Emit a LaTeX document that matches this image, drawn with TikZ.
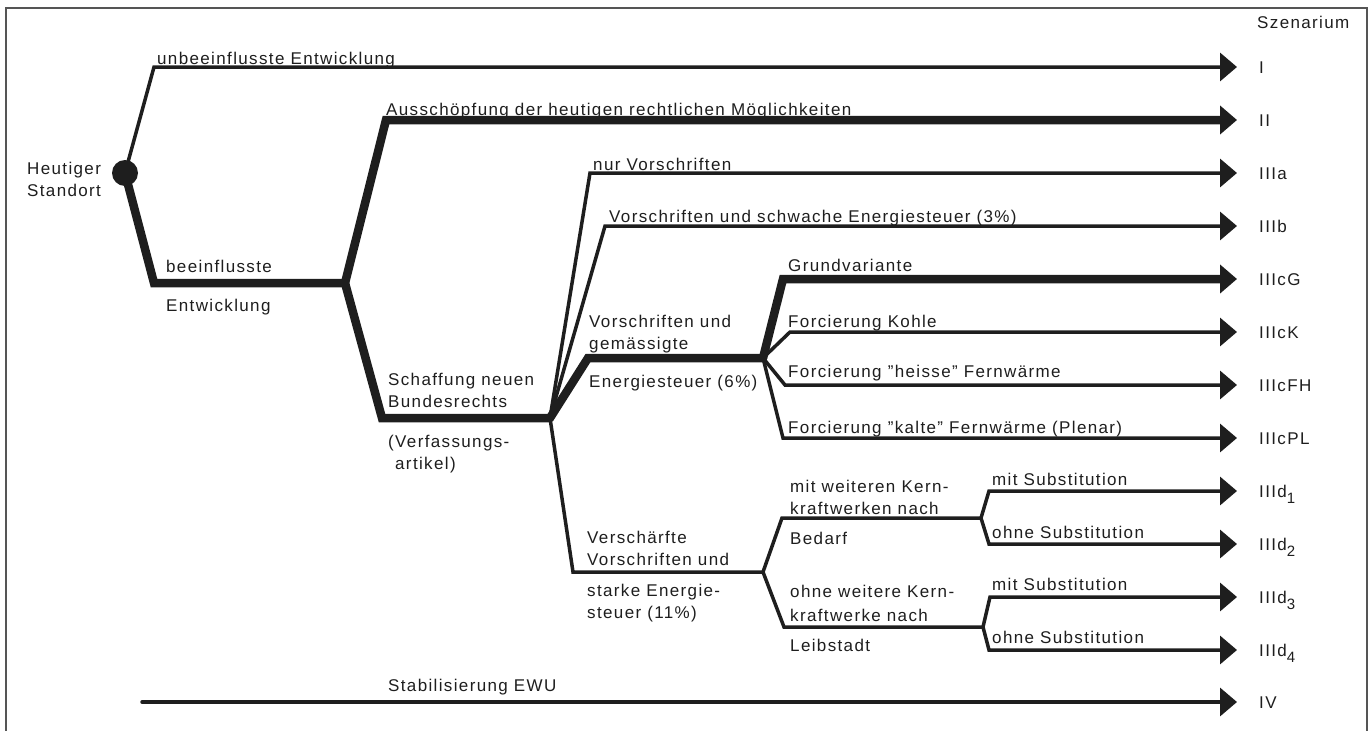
\documentclass[tikz,border=0pt]{standalone}
\usepackage{fontspec}
\setmainfont[LetterSpace=8]{Liberation Sans}
\usetikzlibrary{arrows.meta}
\definecolor{ink}{HTML}{1E1E1E}
\definecolor{framec}{HTML}{555555}
\newcommand{\lfont}{\fontsize{17}{20}\selectfont}
\newcommand{\sub}[1]{\raisebox{-6pt}{\fontsize{15}{15}\selectfont #1}}
\tikzset{
  ln/.style={draw=ink, line cap=round, line join=miter},
  thinln/.style={ln, line width=3.5pt},
  thickln/.style={ln, line width=8.5pt},
  arr/.style={-{Triangle[length=17pt,width=28pt]}},
  lbl/.style={anchor=base west, inner sep=0pt, text=ink, font=\lfont},
}
\begin{document}
\begin{tikzpicture}[x=1pt,y=-1pt]
\useasboundingbox (0,0) rectangle (1371,731);
\begin{scope}
  \clip (0,0) rectangle (1371,731);
  \draw[framec, line width=1.5pt] (6,8) rectangle (1367,760);
\end{scope}

% coordinates
\node[circle, fill=ink, minimum size=26pt, inner sep=0pt] (root) at (125,173) {};
\coordinate (cI) at (154,67);   \coordinate (tI) at (1237,67);
\coordinate (cB) at (154,283);  \coordinate (jB) at (345,283);
\coordinate (cII) at (386,120); \coordinate (tII) at (1237,120);
\coordinate (cS) at (382,418);  \coordinate (jS) at (550,418);
\coordinate (cIIIa) at (590,173); \coordinate (tIIIa) at (1237,173);
\coordinate (cIIIb) at (605,226); \coordinate (tIIIb) at (1237,226);
\coordinate (cC) at (588,358);  \coordinate (jC) at (763,358);
\coordinate (cG) at (783,279);  \coordinate (tG) at (1237,279);
\coordinate (cK) at (790,332);  \coordinate (tK) at (1237,332);
\coordinate (cFH) at (785,385); \coordinate (tFH) at (1237,385);
\coordinate (cPL) at (783,438); \coordinate (tPL) at (1237,438);
\coordinate (cD) at (573,572);  \coordinate (jD) at (763,572);
\coordinate (cD1) at (782,518); \coordinate (jD1) at (981,518);
\coordinate (cD2) at (784,627); \coordinate (jD2) at (983,627);
\coordinate (cd1) at (989,491); \coordinate (td1) at (1237,491);
\coordinate (cd2) at (989,544); \coordinate (td2) at (1237,544);
\coordinate (cd3) at (990,597); \coordinate (td3) at (1237,597);
\coordinate (cd4) at (989,650); \coordinate (td4) at (1237,650);
\coordinate (cIV) at (142,702); \coordinate (tIV) at (1237,702);

% connectors
\draw[thinln, arr] (root.center) -- (cI) -- (tI);
\draw[thickln, arr] (root.center) -- (cB) -- (jB) -- (cII) -- (tII);
\draw[thickln] (jB) -- (cS) -- (jS);
\draw[thinln, arr] (jS) -- (cIIIa) -- (tIIIa);
\draw[thinln, arr] (jS) -- (cIIIb) -- (tIIIb);
\draw[thinln] (jS) -- (cD) -- (jD);
\draw[thickln] (jS) -- (cC) -- (jC);
\draw[thickln, arr] (jC) -- (cG) -- (tG);
\draw[thinln, arr] (jC) -- (cK) -- (tK);
\draw[thinln, arr] (jC) -- (cFH) -- (tFH);
\draw[thinln, arr] (jC) -- (cPL) -- (tPL);
\draw[thinln] (jD) -- (cD1) -- (jD1);
\draw[thinln] (jD) -- (cD2) -- (jD2);
\draw[thinln, arr] (jD1) -- (cd1) -- (td1);
\draw[thinln, arr] (jD1) -- (cd2) -- (td2);
\draw[thinln, arr] (jD2) -- (cd3) -- (td3);
\draw[thinln, arr] (jD2) -- (cd4) -- (td4);
\draw[thinln, arr] (cIV) -- (tIV);

% labels
\node[lbl] (lHeu1) at (27,174) {Heutiger};
\node[lbl] (lHeu2) at (27,196) {Standort};
\node[lbl] (lI) at (157,64) {unbeeinflusste Entwicklung};
\node[lbl] (lII) at (386,115) {Ausschöpfung der heutigen rechtlichen Möglichkeiten};
\node[lbl] (lB1) at (166,272) {beeinflusste};
\node[lbl] (lB2) at (166,311) {Entwicklung};
\node[lbl] (lS1) at (388,385) {Schaffung neuen};
\node[lbl] (lS2) at (388,407) {Bundesrechts};
\node[lbl] (lS3) at (388,447) {(Verfassungs-};
\node[lbl] (lS4) at (395,469) {artikel)};
\node[lbl] (lIIIa) at (593,170) {nur Vorschriften};
\node[lbl] (lIIIb) at (609,222) {Vorschriften und schwache Energiesteuer (3\%)};
\node[lbl] (lC1) at (589,327) {Vorschriften und};
\node[lbl] (lC2) at (589,349) {gemässigte};
\node[lbl] (lC3) at (589,387) {Energiesteuer (6\%)};
\node[lbl] (lG) at (788,271) {Grundvariante};
\node[lbl] (lK) at (788,327) {Forcierung Kohle};
\node[lbl] (lFH) at (788,377) {Forcierung ”heisse” Fernwärme};
\node[lbl] (lPL) at (788,433) {Forcierung ”kalte” Fernwärme (Plenar)};
\node[lbl] (lD1) at (587,543) {Verschärfte};
\node[lbl] (lD2) at (587,565) {Vorschriften und};
\node[lbl] (lD3) at (587,596) {starke Energie-};
\node[lbl] (lD4) at (587,618) {steuer (11\%)};
\node[lbl] (lE1) at (790,492) {mit weiteren Kern-};
\node[lbl] (lE2) at (790,514) {kraftwerken nach};
\node[lbl] (lE3) at (790,544) {Bedarf};
\node[lbl] (lF1) at (790,597) {ohne weitere Kern-};
\node[lbl] (lF2) at (790,621) {kraftwerke nach};
\node[lbl] (lF3) at (790,651) {Leibstadt};
\node[lbl] (ld1) at (992,485) {mit Substitution};
\node[lbl] (ld2) at (992,538) {ohne Substitution};
\node[lbl] (ld3) at (992,590) {mit Substitution};
\node[lbl] (ld4) at (992,643) {ohne Substitution};
\node[lbl] (lIV) at (388,691) {Stabilisierung EWU};

% scenario labels
\node[lbl] (sz) at (1257,28) {Szenarium};
\node[lbl] (sI) at (1259,73) {I};
\node[lbl] (sII) at (1259,126) {II};
\node[lbl] (sIIIa) at (1259,179) {IIIa};
\node[lbl] (sIIIb) at (1259,232) {IIIb};
\node[lbl] (sG) at (1259,285) {IIIcG};
\node[lbl] (sK) at (1259,338) {IIIcK};
\node[lbl] (sFH) at (1259,391) {IIIcFH};
\node[lbl] (sPL) at (1259,444) {IIIcPL};
\node[lbl] (sd1) at (1259,497) {IIId\sub{1}};
\node[lbl] (sd2) at (1259,550) {IIId\sub{2}};
\node[lbl] (sd3) at (1259,603) {IIId\sub{3}};
\node[lbl] (sd4) at (1259,656) {IIId\sub{4}};
\node[lbl] (sIV) at (1259,708) {IV};
\end{tikzpicture}
\end{document}
